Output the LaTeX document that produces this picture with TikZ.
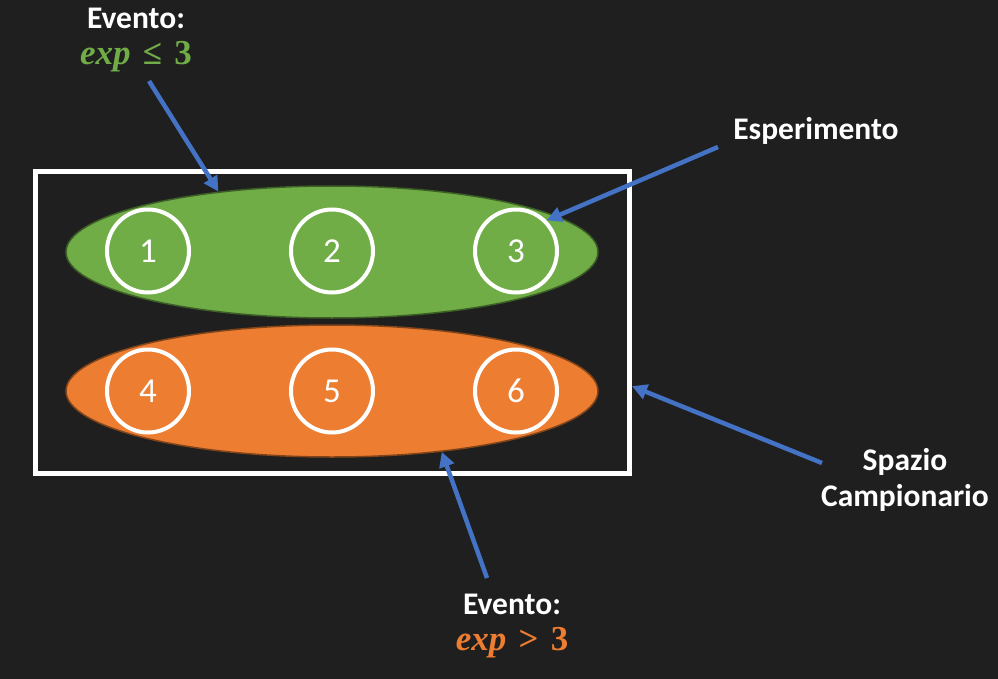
\documentclass[tikz,border=0pt]{standalone}
\usepackage{fontspec}
\setmainfont{Carlito}
\newfontfamily\mserif{Liberation Serif}
\usetikzlibrary{shapes.geometric,arrows.meta}
\definecolor{bg}{RGB}{31,31,31}
\definecolor{evgreen}{RGB}{112,173,71}
\definecolor{evgreenb}{RGB}{60,95,38}
\definecolor{evorange}{RGB}{237,125,49}
\definecolor{evoranged}{RGB}{130,68,25}
\definecolor{arrblue}{RGB}{68,114,196}
\tikzset{
  evset/.style={ellipse,draw=#1,line width=1.5pt,minimum width=532pt,minimum height=132pt,inner sep=0pt},
  outcome/.style={ellipse,draw=white,line width=4pt,minimum width=82pt,minimum height=83pt,inner sep=0pt,text=white,font=\fontsize{35}{40}\selectfont},
  lbl/.style={text=white,font=\bfseries\fontsize{31.5}{36}\selectfont,align=center,inner sep=0pt},
  mlbl/.style={inner sep=0pt,font=\mserif\bfseries\fontsize{35}{40}\selectfont},
  ptr/.style={draw=arrblue,line width=4.5pt,-{Triangle[length=15pt,width=15pt]}}
}
\begin{document}
\begin{tikzpicture}[x=1pt,y=-1pt]
\fill[bg] (0,0) rectangle (998,679);
\useasboundingbox (0,0) rectangle (998,679);
\node[draw=white,line width=5pt,minimum width=594pt,minimum height=301pt,inner sep=0pt] (space) at (332.5,322.5) {};
\node[evset=evgreenb,fill=evgreen] (g) at (332,252) {};
\node[evset=evoranged,fill=evorange] (o) at (332,391) {};
\node[outcome] (c1) at (148,251) {1};
\node[outcome] (c2) at (332,251) {2};
\node[outcome] (c3) at (516,251) {3};
\node[outcome] (c4) at (148,391) {4};
\node[outcome] (c5) at (332,391) {5};
\node[outcome] (c6) at (516,391) {6};
\node[lbl] (ev1) at (136,18) {Evento:};
\node[mlbl,text=evgreen] (m1) at (136,57) {\itshape exp\upshape\hspace{0.35em}≤\hspace{0.35em}3};
\node[lbl] (esp) at (816,131) {Esperimento};
\node[lbl] (spz) at (905,480) {Spazio\\Campionario};
\node[lbl] (ev2) at (512,604) {Evento:};
\node[mlbl,text=evorange] (m2) at (512,643) {\itshape exp\upshape\hspace{0.35em}>\hspace{0.35em}3};
\coordinate (a1s) at (149,81);
\coordinate (a2s) at (718,147);
\coordinate (a3s) at (822,463);
\coordinate (a4s) at (487,578);
\draw[ptr] (a1s) -- (g.152);
\draw[ptr] (a2s) -- (c3.45);
\draw[ptr] (a3s) -- (space.-12);
\draw[ptr] (a4s) -- (o.-29);
\end{tikzpicture}
\end{document}
